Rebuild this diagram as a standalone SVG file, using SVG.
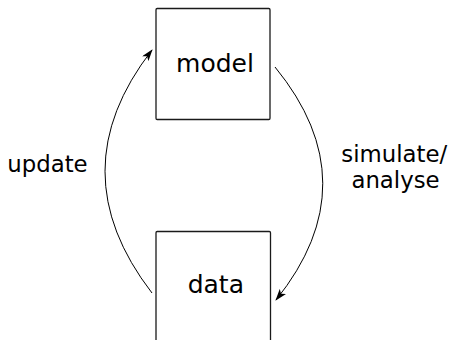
<svg xmlns="http://www.w3.org/2000/svg" width="452" height="340" viewBox="0 0 452 340">
<defs>
<style>
.box{fill:#ffffff;stroke:#1a1a1a;stroke-width:1.3}
.node{font-family:"DejaVu Sans",sans-serif;font-size:25px;fill:#000;text-anchor:middle}
.lbl{font-family:"DejaVu Sans",sans-serif;font-size:22.8px;fill:#000}
.edge{fill:none;stroke:#000;stroke-width:1}
</style>
<marker id="arr" viewBox="0 0 12 8" refX="11" refY="4" markerWidth="12" markerHeight="8" markerUnits="userSpaceOnUse" orient="auto">
<path d="M0,0 L12,4 L0,8 L3,4 Z" fill="#000"/>
</marker>
</defs>
<rect width="452" height="340" fill="#ffffff"/>
<g id="model">
<rect class="box" x="156" y="8.5" width="114" height="111" rx="1.2"/>
<text class="node" x="215" y="72">model</text>
</g>
<g id="data">
<rect class="box" x="156" y="231.5" width="114.5" height="130" rx="1.2"/>
<text class="node" x="215.8" y="292.7">data</text>
</g>
<g id="connectors">
<path class="edge" d="M152,293 Q58,171 152,50" marker-end="url(#arr)"/>
<path class="edge" d="M275,67 Q370,183 276,300" marker-end="url(#arr)"/>
</g>
<g id="labels">
<text class="lbl" x="7.3" y="172">update</text>
<text class="lbl" x="394.2" y="161.7" text-anchor="middle">simulate/</text>
<text class="lbl" x="395.5" y="188.3" text-anchor="middle">analyse</text>
</g>
</svg>
